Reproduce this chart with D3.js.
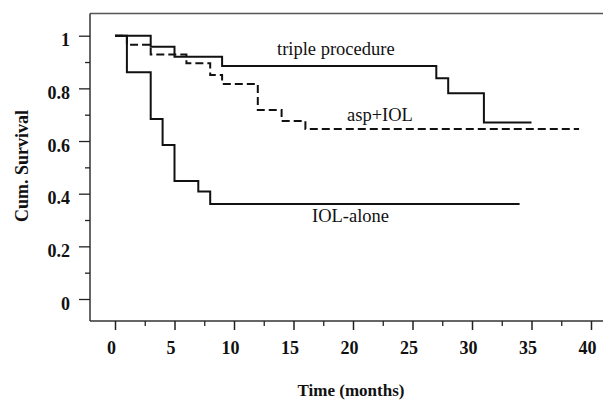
<!DOCTYPE html>
<html><head><meta charset="utf-8">
<script src="https://cdn.jsdelivr.net/npm/d3@7"></script>
<style>
html,body{margin:0;padding:0;background:#fff;}
svg{display:block;}
text{font-family:"Liberation Serif","Times New Roman",serif;fill:#111;}
</style></head>
<body>
<script>
// ---- data ----
const tripleTimes = [0, 3, 5, 9, 27, 28, 31, 35];
const tripleSurv  = [1, 0.958, 0.92, 0.885, 0.838, 0.781, 0.67, 0.67];
const aspTimes = [0, 1, 3, 6, 8, 9, 12, 14, 16, 39];
const aspSurv  = [1, 0.966, 0.929, 0.895, 0.851, 0.817, 0.718, 0.676, 0.646, 0.646];
const iolTimes = [0, 1, 3, 4, 5, 7, 8, 34];
const iolSurv  = [1, 0.861, 0.684, 0.585, 0.448, 0.408, 0.361, 0.361];
const xTicks = [0, 5, 10, 15, 20, 25, 30, 35, 40];
const xMinor = [2.5, 7.5, 12.5, 17.5, 22.5, 27.5, 32.5, 37.5];
const yTicks = [0, 0.2, 0.4, 0.6, 0.8, 1];
const yMinor = [0.1, 0.3, 0.5, 0.7, 0.9];
const seriesLabels = ["triple procedure", "asp+IOL", "IOL-alone"];

const W = 603, H = 402;
const svg = d3.select("body").append("svg").attr("width", W).attr("height", H);

const x = d3.scaleLinear().domain([0, 40]).range([115, 591]);
const y = d3.scaleLinear().domain([0, 1]).range([299, 35.7]);

const axL = 90, axB = 321, axT = 13.5;

// frame lines
svg.append("line").attr("x1", axL).attr("x2", W).attr("y1", axT).attr("y2", axT)
  .attr("stroke", "#555").attr("stroke-width", 1.5);
svg.append("line").attr("x1", axL).attr("x2", axL).attr("y1", axT).attr("y2", axB)
  .attr("stroke", "#333").attr("stroke-width", 1.5);
svg.append("line").attr("x1", axL).attr("x2", W).attr("y1", axB).attr("y2", axB)
  .attr("stroke", "#333").attr("stroke-width", 1.5);

// x axis
const gx = svg.append("g").attr("transform", `translate(0,${axB})`)
  .call(d3.axisBottom(x).tickValues(xTicks).tickSize(9).tickFormat(d3.format("d")));
gx.select(".domain").remove();
gx.selectAll(".tick line").attr("stroke", "#222").attr("stroke-width", 1.5);
gx.selectAll(".tick text").attr("font-size", 18).attr("font-weight", "bold")
  .attr("font-family", "Liberation Serif").attr("y", 33).attr("dy", 0).attr("dx", -4).attr("fill", "#111");
const gxm = svg.append("g").attr("transform", `translate(0,${axB})`)
  .call(d3.axisBottom(x).tickValues(xMinor).tickSize(5).tickFormat(""));
gxm.select(".domain").remove();
gxm.selectAll(".tick line").attr("stroke", "#222").attr("stroke-width", 1.3);

// y axis
const gy = svg.append("g").attr("transform", `translate(${axL},0)`)
  .call(d3.axisLeft(y).tickValues(yTicks).tickSize(11).tickFormat(d => d === 0 || d === 1 ? d3.format("d")(d) : d3.format(".1f")(d)));
gy.select(".domain").remove();
gy.selectAll(".tick line").attr("stroke", "#222").attr("stroke-width", 1.3);
gy.selectAll(".tick text").attr("font-size", 18).attr("font-weight", "bold")
  .attr("font-family", "Liberation Serif").attr("x", -20).attr("dy", 0).attr("y", 10).attr("fill", "#111");
const gym = svg.append("g").attr("transform", `translate(${axL},0)`)
  .call(d3.axisLeft(y).tickValues(yMinor).tickSize(5).tickFormat(""));
gym.select(".domain").remove();
gym.selectAll(".tick line").attr("stroke", "#222").attr("stroke-width", 1.3);

// axis titles
svg.append("text").attr("x", 351).attr("y", 396).attr("text-anchor", "middle")
  .attr("font-size", 17).attr("font-weight", "bold").text("Time (months)");
svg.append("text").attr("transform", "translate(28,166) rotate(-90)").attr("text-anchor", "middle")
  .attr("font-size", 18).attr("font-weight", "bold").text("Cum. Survival");

// curves
const line = d3.line().x(d => x(d[0])).y(d => y(d[1])).curve(d3.curveStepAfter);
function pts(t, s) { return t.map((v, i) => [v, s[i]]); }

svg.append("path").datum(pts(aspTimes, aspSurv)).attr("d", line)
  .attr("fill", "none").attr("stroke", "#111").attr("stroke-width", 2).attr("stroke-dasharray", "8,4");
svg.append("path").datum(pts(tripleTimes, tripleSurv)).attr("d", line)
  .attr("fill", "none").attr("stroke", "#111").attr("stroke-width", 2);
svg.append("path").datum(pts(iolTimes, iolSurv)).attr("d", line)
  .attr("fill", "none").attr("stroke", "#111").attr("stroke-width", 2);

// series labels
svg.append("text").attr("x", 277).attr("y", 55).attr("font-size", 18.5).text(seriesLabels[0]);
svg.append("text").attr("x", 347).attr("y", 121).attr("font-size", 18.5).text(seriesLabels[1]);
svg.append("text").attr("x", 312).attr("y", 222).attr("font-size", 18.5).text(seriesLabels[2]);
</script>
</body></html>
